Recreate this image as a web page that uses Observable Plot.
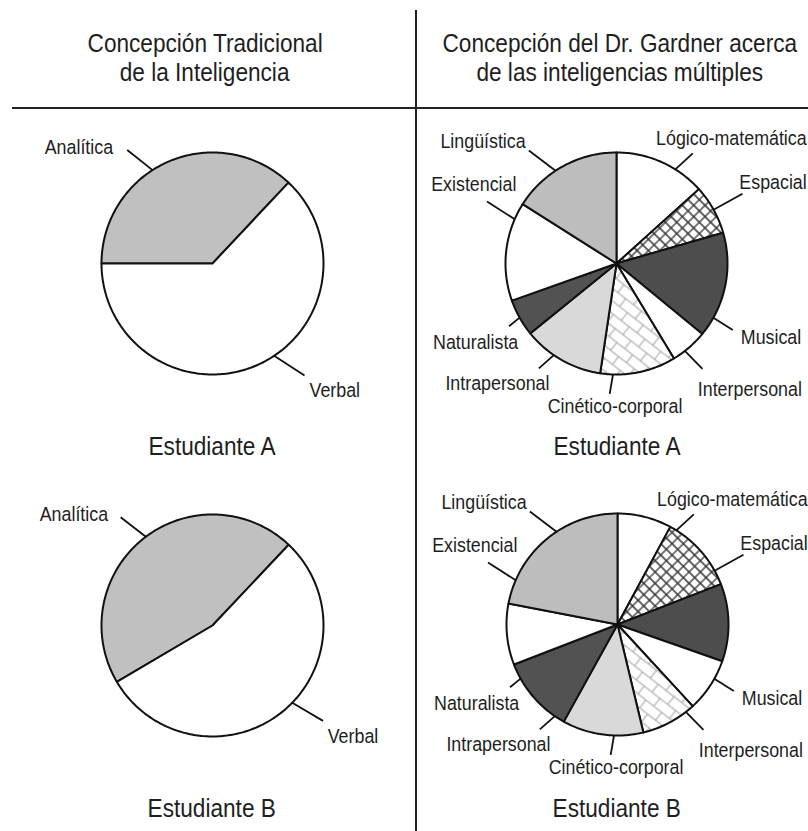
<!DOCTYPE html>
<html>
<head>
<meta charset="utf-8">
<script src="https://cdn.jsdelivr.net/npm/d3@7"></script>
<script src="https://cdn.jsdelivr.net/npm/@observablehq/plot@0.6"></script>
<style>
  html, body { margin: 0; padding: 0; background: #fff; }
  body { width: 808px; height: 831px; overflow: hidden; }
  #fig { position: relative; width: 808px; height: 831px; overflow: hidden;
         font-family: "Liberation Sans", Arial, sans-serif; color: #1e1e1e; }
  .abs { position: absolute; }
  .head, .cap { font-size: 26px; line-height: 29px; text-align: center; white-space: nowrap; }
  .head span, .cap span { display: inline-block; transform: scaleX(0.87); transform-origin: 50% 50%; }
  .cap { width: 300px; }
  .rule { background: #222; }
</style>
</head>
<body>
<div id="fig">
  <svg width="0" height="0" style="position:absolute">
    <defs>
      <pattern id="crosshatch" patternUnits="userSpaceOnUse" width="8" height="8" patternTransform="rotate(45)">
        <rect width="8" height="8" fill="#fff"/>
        <path d="M0,4H8M4,0V8" stroke="#333" stroke-width="1.3" fill="none"/>
      </pattern>
      <pattern id="brick" patternUnits="userSpaceOnUse" width="20" height="20" patternTransform="rotate(38)">
        <rect width="20" height="20" fill="#fff"/>
        <path d="M0,5H20M0,15H20M5,5V15M15,15V20M15,0V5" stroke="#a0a0a0" stroke-width="1" fill="none"/>
      </pattern>
    </defs>
  </svg>
</div>
<script>
// ---------- data ----------
const headerLeft = ["Concepción Tradicional", "de la Inteligencia"];
const headerRight = ["Concepción del Dr. Gardner acerca", "de las inteligencias múltiples"];
const students = ["Estudiante A", "Estudiante B"];

const tradCategories = ["Analítica", "Verbal"];
const tradA = [37, 63];        // % of circle
const tradB = [45.5, 54.5];

const gardnerCategories = ["Lógico-matemática", "Espacial", "Musical", "Interpersonal",
  "Cinético-corporal", "Intrapersonal", "Naturalista", "Existencial", "Lingüística"];
const gardnerA = [13.3, 7.2, 15.4, 5.4, 11.0, 11.8, 5.4, 14.4, 16.0];
const gardnerB = [7.9, 11.2, 11.3, 7.8, 8.1, 11.8, 11.1, 8.9, 22.0];

// ---------- styles / layout ----------
const fills = {
  "Analítica": "#c0c0c0", "Verbal": "#ffffff",
  "Lógico-matemática": "#ffffff", "Espacial": "url(#crosshatch)", "Musical": "#4d4d4d",
  "Interpersonal": "#ffffff", "Cinético-corporal": "url(#brick)", "Intrapersonal": "#d9d9d9",
  "Naturalista": "#525252", "Existencial": "#ffffff", "Lingüística": "#bdbdbd"
};
// label template: [leader inner angle, leader outer angle, leader outer radius, text angle, text radius]
const gardnerLabelLayout = {
  "Lógico-matemática": [32, 34.7, 134, 42.5, 170],
  "Espacial": [61, 61, 144, 62.5, 176.5],
  "Musical": [119.3, 119.8, 134, 115.7, 171.5],
  "Interpersonal": [142, 140.8, 136, 133.4, 183.5],
  "Cinético-corporal": [181.8, 183, 130.5, 180.6, 143],
  "Intrapersonal": [214.4, 216.5, 130.5, 224.8, 169],
  "Naturalista": [240.8, 239.7, 124.5, 240.7, 161.5],
  "Existencial": [293.5, 295.6, 143.6, 298.9, 163],
  "Lingüística": [326.7, 322.2, 143, 312.5, 181]
};
const tradLabelLayoutA = {
  "Analítica": [327.3, 323.1, 142, 311, 177],
  "Verbal": [146.3, 140.6, 145, 136, 176]
};
const tradLabelLayoutB = {
  "Analítica": [323.1, 319.7, 142, 308.7, 177.6],
  "Verbal": [134.1, 130.8, 146, 128.3, 179]
};
const R = 111;
const rad = Math.PI / 180;
const textSqueeze = 0.87;

function piePlot(categories, values, startDeg, layout) {
  const rows = categories.map((c, i) => ({cat: c, value: values[i], fill: fills[c]}));
  const arcs = d3.pie().sort(null).value(d => d.value)
    .startAngle(startDeg * rad).endAngle((startDeg + 360) * rad)(rows);
  const pts = [];
  for (const a of arcs) {
    const key = a.data.cat, fill = a.data.fill;
    const n = Math.max(2, Math.ceil((a.endAngle - a.startAngle) / rad));
    pts.push({key, fill, x: 0, y: 0});
    for (let i = 0; i <= n; i++) {
      const t = a.startAngle + (a.endAngle - a.startAngle) * i / n;
      pts.push({key, fill, x: R * Math.sin(t), y: -R * Math.cos(t)});
    }
  }
  const leaders = categories.map(c => {
    const [ai, ao, ro] = layout[c];
    return {x1: R * Math.sin(ai * rad), y1: -R * Math.cos(ai * rad),
            x2: ro * Math.sin(ao * rad), y2: -ro * Math.cos(ao * rad)};
  });
  const labels = categories.map(c => {
    const [, , , at, rt] = layout[c];
    return {label: c, x: rt * Math.sin(at * rad), y: -rt * Math.cos(at * rad)};
  });
  const svg = Plot.plot({
    width: 400, height: 330, margin: 0,
    x: {domain: [-200, 200], axis: null},
    y: {domain: [-160, 170], range: [0, 330], axis: null},
    color: {type: "identity"},
    style: {overflow: "visible", background: "transparent", fontFamily: '"Liberation Sans", Arial, sans-serif'},
    marks: [
      Plot.line(pts, {x: "x", y: "y", z: "key", fill: "fill", stroke: "#111",
        strokeWidth: 2, strokeLinejoin: "round", curve: "linear-closed"}),
      Plot.link(leaders, {x1: "x1", y1: "y1", x2: "x2", y2: "y2", stroke: "#111", strokeWidth: 1.8}),
      Plot.text(labels, {x: "x", y: "y", text: "label", fontSize: 20.5, fill: "#1e1e1e",
        textAnchor: "middle", lineAnchor: "middle"})
    ]
  });
  // condense label glyphs horizontally (narrow typeface look)
  svg.querySelectorAll("text").forEach(t => {
    const tr = t.getAttribute("transform");
    if (tr) {
      t.setAttribute("transform", tr + ` scale(${textSqueeze},1)`);
    } else {
      const x = +(t.getAttribute("x") || 0), y = +(t.getAttribute("y") || 0);
      t.removeAttribute("x"); t.removeAttribute("y");
      t.setAttribute("transform", `translate(${x},${y}) scale(${textSqueeze},1)`);
    }
  });
  return svg;
}

const fig = document.getElementById("fig");
function addDiv(cls, text, style) {
  const d = document.createElement("div");
  d.className = "abs " + cls;
  if (text) { const s = document.createElement("span"); s.textContent = text; d.appendChild(s); }
  Object.assign(d.style, style);
  fig.appendChild(d);
  return d;
}
// frame lines
addDiv("rule", null, {left: "415px", top: "10px", width: "2px", height: "821px"});
addDiv("rule", null, {left: "12px", top: "107px", width: "796px", height: "2px"});
// headers (boxes wide enough that the unscaled text never overflows)
headerLeft.forEach((t, i) => addDiv("head", t, {left: "-40px", width: "490px", top: (29 + 29 * i) + "px"}));
headerRight.forEach((t, i) => addDiv("head", t, {left: "380px", width: "480px", top: (29 + 29 * i) + "px"}));

// pies: [cx, cy] centres
const pies = [
  {cats: tradCategories, vals: tradA, start: -90, layout: tradLabelLayoutA, cx: 212, cy: 263},
  {cats: tradCategories, vals: tradB, start: -120.5, layout: tradLabelLayoutB, cx: 212, cy: 625},
  {cats: gardnerCategories, vals: gardnerA, start: 0, layout: gardnerLabelLayout, cx: 616, cy: 263},
  {cats: gardnerCategories, vals: gardnerB, start: 0, layout: gardnerLabelLayout, cx: 617, cy: 624}
];
pies.forEach(p => {
  const el = piePlot(p.cats, p.vals, p.start, p.layout);
  el.style.position = "absolute";
  el.style.left = (p.cx - 200) + "px";
  el.style.top = (p.cy - 160) + "px";
  fig.appendChild(el);
});
// captions
addDiv("cap", students[0], {left: "62px", top: "432px"});
addDiv("cap", students[0], {left: "467px", top: "432px"});
addDiv("cap", students[1], {left: "62px", top: "794px"});
addDiv("cap", students[1], {left: "467px", top: "794px"});
</script>
</body>
</html>
